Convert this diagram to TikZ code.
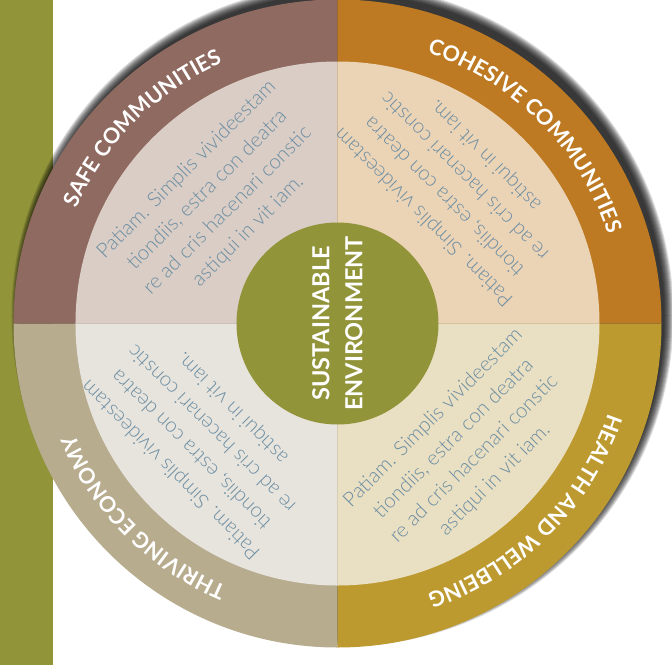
\documentclass[tikz,border=0pt]{standalone}
\usepackage{fontspec}
\setmainfont{Lato}
\newfontfamily\bodyfont{Lato Light}
\usetikzlibrary{decorations.text}

\definecolor{barcolor}{RGB}{146,148,58}
\definecolor{safering}{RGB}{143,106,96}
\definecolor{safefill}{RGB}{217,205,197}
\definecolor{cohesivering}{RGB}{189,122,34}
\definecolor{cohesivefill}{RGB}{235,211,182}
\definecolor{healthring}{RGB}{189,154,48}
\definecolor{healthfill}{RGB}{233,223,194}
\definecolor{thrivingring}{RGB}{184,172,143}
\definecolor{thrivingfill}{RGB}{231,227,221}
\definecolor{bodycolor}{RGB}{108,142,163}

\tikzset{
  ringlabel/.style={decorate, decoration={text along path, text align=center,
      text color=white, text={|\fontsize{21.5}{21.5}\selectfont\bfseries|#1}}},
  bodytext/.style={text=bodycolor, align=center,
      font=\bodyfont\fontsize{20.5}{29}\selectfont},
  centretext/.style={text=white, align=center,
      font=\fontsize{23.5}{33}\selectfont\bfseries}
}

\begin{document}
\begin{tikzpicture}[x=1pt,y=1pt]
  \useasboundingbox (-337.5,-341.5) rectangle (334.5,323.5);

  % Draw the green bar on the left
  \fill[barcolor] (-337.5,-341.5) rectangle (-284.5,323.5);

  % Soft shadow behind the disc
  \foreach \i in {0,...,9}
    \fill[black, opacity=0.14] (5,8) circle[radius=331-\i];

  % Outer ring quadrants
  \fill[safering] (0,0) -- (90:324) arc[start angle=90, end angle=180, radius=324] -- cycle;
  \fill[cohesivering] (0,0) -- (0:324) arc[start angle=0, end angle=90, radius=324] -- cycle;
  \fill[healthring] (0,0) -- (-90:324) arc[start angle=-90, end angle=0, radius=324] -- cycle;
  \fill[thrivingring] (0,0) -- (180:324) arc[start angle=180, end angle=270, radius=324] -- cycle;

  % Inner quadrants
  \fill[safefill] (0,0) -- (90:262) arc[start angle=90, end angle=180, radius=262] -- cycle;
  \fill[cohesivefill] (0,0) -- (0:262) arc[start angle=0, end angle=90, radius=262] -- cycle;
  \fill[healthfill] (0,0) -- (-90:262) arc[start angle=-90, end angle=0, radius=262] -- cycle;
  \fill[thrivingfill] (0,0) -- (180:262) arc[start angle=180, end angle=270, radius=262] -- cycle;

  % Ring labels, read clockwise
  \path[ringlabel={SAFE COMMUNITIES}] (180:285) arc[start angle=180, end angle=90, radius=285];
  \path[ringlabel={COHESIVE COMMUNITIES}] (90:285) arc[start angle=90, end angle=0, radius=285];
  \path[ringlabel={HEALTH AND WELLBEING}] (0:285) arc[start angle=0, end angle=-90, radius=285];
  \path[ringlabel={THRIVING ECONOMY}] (-90:285) arc[start angle=-90, end angle=-180, radius=285];

  % Body texts
  \node[bodytext, rotate=45] (safebody) at (-120,123)
    {Patiam. Simplis vivideestam\\tiondiis, estra con deatra\\re ad cris hacenari constic\\astiqui in vit iam.};
  \node[bodytext, rotate=135] (cohesivebody) at (117.5,137.5)
    {Patiam. Simplis vivideestam\\tiondiis, estra con deatra\\re ad cris hacenari constic\\astiqui in vit iam.};
  \node[bodytext, rotate=45] (healthbody) at (126.5,-125.5)
    {Patiam. Simplis vivideestam\\tiondiis, estra con deatra\\re ad cris hacenari constic\\astiqui in vit iam.};
  \node[bodytext, rotate=135] (thrivingbody) at (-135.5,-115)
    {Patiam. Simplis vivideestam\\tiondiis, estra con deatra\\re ad cris hacenari constic\\astiqui in vit iam.};

  % Centre circle
  \fill[barcolor] (0,0) circle[radius=101];
  \node[centretext, rotate=90] (centre) at (0,0) {SUSTAINABLE\\ENVIRONMENT};

\end{tikzpicture}
\end{document}
